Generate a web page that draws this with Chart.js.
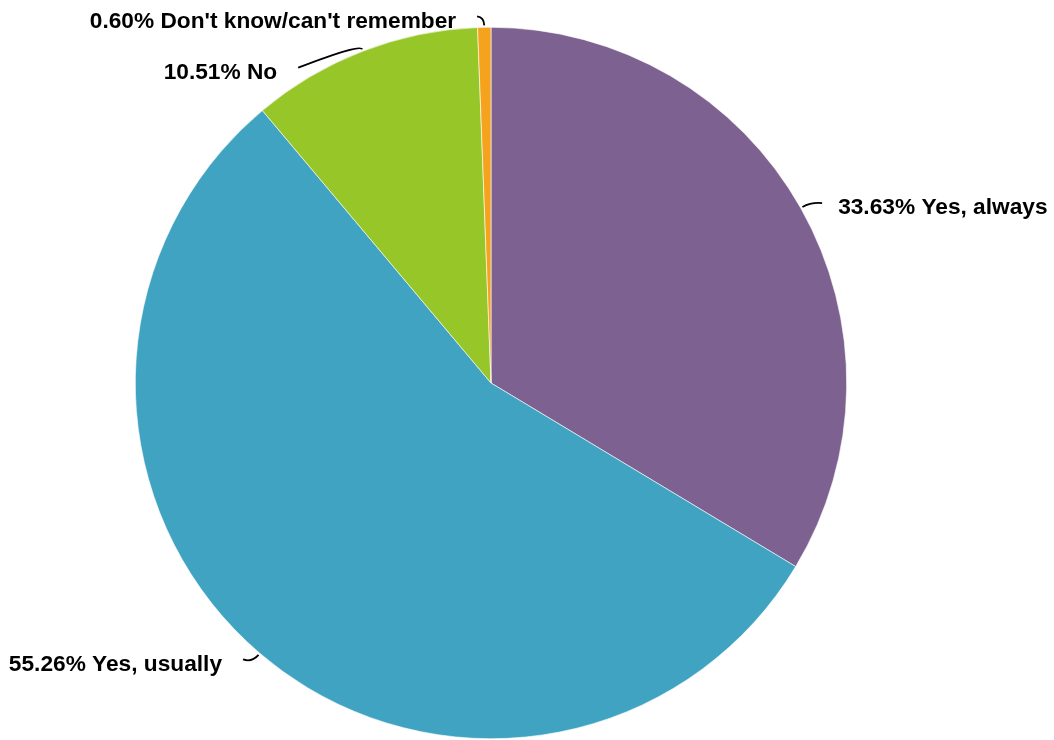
<!DOCTYPE html>
<html>
<head>
<meta charset="utf-8">
<script src="https://cdn.jsdelivr.net/npm/chart.js@4"></script>
<style>
  html, body { margin: 0; padding: 0; background: #fff; }
  #wrap { width: 1054px; height: 740px; }
</style>
</head>
<body>
<div id="wrap"><canvas id="pie"></canvas></div>
<script>
const categories = ['Yes, always', 'Yes, usually', 'No', "Don't know/can't remember"];
const shares = [33.63, 55.26, 10.51, 0.60];
const sliceColors = ['#7d6190', '#40a3c2', '#97c628', '#f5a31c'];

// leader line bend (px from elbow) per slice, and side the text sits on
const leaders = [
  { dx: 11, dy: 1, side: 'right', elbow: 12 },
  { dx: -9, dy: -3, side: 'left', elbow: 12 },
  { dx: -62, dy: 24, side: 'left', elbow: 8 },
  { dx: -7, dy: -1, side: 'left', elbow: 10 }
];

const labelPlugin = {
  id: 'pieLabels',
  afterDraw(chart) {
    const ctx = chart.ctx;
    const meta = chart.getDatasetMeta(0);
    ctx.save();
    ctx.font = 'bold 22.7px "Liberation Sans", Arial, sans-serif';
    ctx.textBaseline = 'middle';
    ctx.strokeStyle = '#000';
    ctx.fillStyle = '#000';
    ctx.lineWidth = 1.8;
    meta.data.forEach((arc, i) => {
      const mid = (arc.startAngle + arc.endAngle) / 2;
      const r = arc.outerRadius;
      const lay = leaders[i];
      const sx = arc.x + Math.cos(mid) * (r + 2), sy = arc.y + Math.sin(mid) * (r + 2);
      const cx = arc.x + Math.cos(mid) * (r + lay.elbow), cy = arc.y + Math.sin(mid) * (r + lay.elbow);
      const ex = cx + lay.dx, ey = cy + lay.dy;
      ctx.beginPath();
      ctx.moveTo(sx, sy);
      ctx.quadraticCurveTo(cx, cy, ex, ey);
      ctx.stroke();
      const txt = shares[i].toFixed(2) + '% ' + categories[i];
      if (lay.side === 'right') {
        ctx.textAlign = 'left';
        ctx.fillText(txt, ex + 16, ey + 5);
      } else {
        ctx.textAlign = 'right';
        ctx.fillText(txt, ex - 21, ey + 5);
      }
    });
    ctx.restore();
  }
};

new Chart(document.getElementById('pie'), {
  type: 'pie',
  data: {
    labels: categories,
    datasets: [{
      data: shares,
      backgroundColor: sliceColors,
      borderColor: '#ffffff',
      borderWidth: 0.6
    }]
  },
  options: {
    responsive: true,
    maintainAspectRatio: false,
    animation: false,
    layout: { padding: { left: 135, right: 207, top: 27, bottom: 1 } },
    plugins: { legend: { display: false }, tooltip: { enabled: false } }
  },
  plugins: [labelPlugin]
});
</script>
</body>
</html>
